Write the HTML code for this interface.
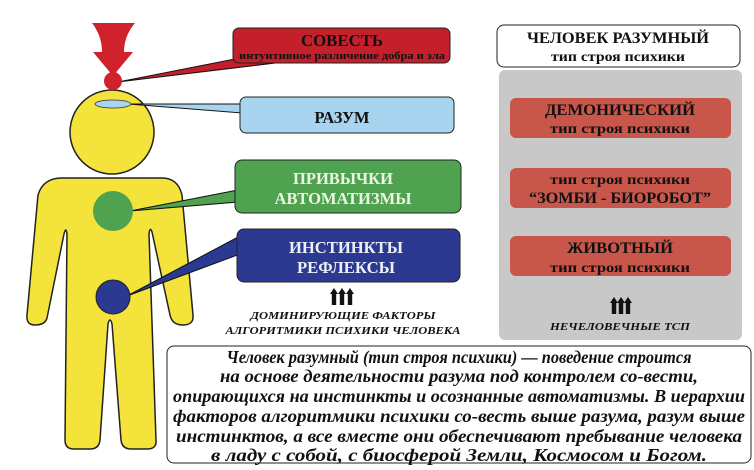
<!DOCTYPE html>
<html><head><meta charset="utf-8"><style>html,body{margin:0;padding:0;background:#fff}svg{display:block}text{font-family:"Liberation Serif","DejaVu Serif",serif;font-weight:bold}</style></head>
<body>
<svg width="754" height="470" viewBox="0 0 754 470" xmlns="http://www.w3.org/2000/svg">
<defs>
<path id="ar" d="M -4,0 L 0,-6 L 4,0 L 2.2,0 L 2.2,11 L -2.2,11 L -2.2,0 Z" fill="#111"/>
</defs>
<path d="M 62,178 L 162,178 Q 178,178 182,195 L 193,315 Q 194,325 183,325 Q 172,325 170,315 L 152,232 Q 150,226 149,234 L 156,440 Q 157,449 147,449 L 131,449 Q 122,449 121,440 L 112,324 Q 110,316 108,324 L 100,440 Q 99,449 90,449 L 74,449 Q 65,449 65,440 L 67,234 Q 66,226 64,234 L 47,318 Q 45,325 35,325 Q 26,325 27,315 L 38,195 Q 43,178 62,178 Z" fill="#f3e33a" stroke="#222" stroke-width="1.5"/>
<circle cx="112" cy="132" r="42" fill="#f3e33a" stroke="#222" stroke-width="1.5"/>
<polygon points="118,82 240,58 300,60" fill="#c4202c" stroke="#111" stroke-width="1"/>
<polygon points="128,104 242,104 242,113" fill="#a9d4ef" stroke="#111" stroke-width="1"/>
<polygon points="130,211 238,190 238,202" fill="#4fa24f" stroke="#111" stroke-width="1"/>
<polygon points="127,296 240,236 240,254" fill="#2b3990" stroke="#111" stroke-width="1"/>
<ellipse cx="113" cy="104" rx="18" ry="4" fill="#a9d4ef" stroke="#333" stroke-width="0.8"/>
<circle cx="113" cy="211" r="20" fill="#4fa24f"/>
<circle cx="113" cy="297" r="17" fill="#2b3990" stroke="#222" stroke-width="1"/>
<path d="M 92,23 L 135,23 Q 124,36 124,52 L 133,52 L 113,76 L 93,52 L 102,52 Q 102,36 92,23 Z" fill="#d0222c"/>
<circle cx="113" cy="81" r="9" fill="#d0222c"/>
<rect x="233" y="28" width="217" height="35" rx="6" fill="#c4202c" stroke="#222" stroke-width="1"/>
<text x="342" y="46" text-anchor="middle" font-size="17" fill="#111" textLength="82" lengthAdjust="spacingAndGlyphs">СОВЕСТЬ</text>
<text x="342" y="59" text-anchor="middle" font-size="10" fill="#111" textLength="206" lengthAdjust="spacingAndGlyphs">интуитивное различение добра и зла</text>
<rect x="240" y="97" width="214" height="36" rx="6" fill="#a9d4ef" stroke="#222" stroke-width="1"/>
<text x="342" y="123" text-anchor="middle" font-size="17" fill="#111" textLength="55" lengthAdjust="spacingAndGlyphs">РАЗУМ</text>
<rect x="235" y="160" width="226" height="53" rx="7" fill="#4fa24f" stroke="#222" stroke-width="1"/>
<text x="343" y="184" text-anchor="middle" font-size="17" fill="#eef5e0" textLength="100" lengthAdjust="spacingAndGlyphs">ПРИВЫЧКИ</text>
<text x="343" y="204" text-anchor="middle" font-size="17" fill="#eef5e0" textLength="137" lengthAdjust="spacingAndGlyphs">АВТОМАТИЗМЫ</text>
<rect x="237" y="229" width="223" height="53" rx="7" fill="#2b3990" stroke="#222" stroke-width="1"/>
<text x="346" y="253" text-anchor="middle" font-size="17" fill="#eef0f8" textLength="114" lengthAdjust="spacingAndGlyphs">ИНСТИНКТЫ</text>
<text x="346" y="273" text-anchor="middle" font-size="17" fill="#eef0f8" textLength="98" lengthAdjust="spacingAndGlyphs">РЕФЛЕКСЫ</text>
<use href="#ar" x="334" y="294"/><use href="#ar" x="342" y="294"/><use href="#ar" x="350" y="294"/>
<text x="343" y="319" text-anchor="middle" font-size="11" font-style="italic" fill="#111" textLength="185" lengthAdjust="spacingAndGlyphs">ДОМИНИРУЮЩИЕ ФАКТОРЫ</text>
<text x="343" y="334" text-anchor="middle" font-size="11" font-style="italic" fill="#111" textLength="235" lengthAdjust="spacingAndGlyphs">АЛГОРИТМИКИ ПСИХИКИ ЧЕЛОВЕКА</text>
<rect x="497" y="25" width="243" height="42" rx="7" fill="#fff" stroke="#222" stroke-width="1"/>
<text x="618" y="43" text-anchor="middle" font-size="16" fill="#111" textLength="182" lengthAdjust="spacingAndGlyphs">ЧЕЛОВЕК РАЗУМНЫЙ</text>
<text x="618" y="61" text-anchor="middle" font-size="14" fill="#111" textLength="134" lengthAdjust="spacingAndGlyphs">тип строя психики</text>
<rect x="499" y="70" width="243" height="270" rx="6" fill="#c8c8c8"/>
<rect x="510" y="98" width="221" height="40" rx="6" fill="#c8564a"/>
<text x="620" y="115" text-anchor="middle" font-size="16" fill="#111" textLength="150" lengthAdjust="spacingAndGlyphs">ДЕМОНИЧЕСКИЙ</text>
<text x="620" y="133" text-anchor="middle" font-size="14" fill="#111" textLength="140" lengthAdjust="spacingAndGlyphs">тип строя психики</text>
<rect x="510" y="168" width="221" height="40" rx="6" fill="#c8564a"/>
<text x="620" y="184" text-anchor="middle" font-size="14" fill="#111" textLength="140" lengthAdjust="spacingAndGlyphs">тип строя психики</text>
<text x="620" y="203" text-anchor="middle" font-size="16" fill="#111" textLength="182" lengthAdjust="spacingAndGlyphs">“ЗОМБИ - БИОРОБОТ”</text>
<rect x="510" y="236" width="221" height="40" rx="6" fill="#c8564a"/>
<text x="620" y="253" text-anchor="middle" font-size="16" fill="#111" textLength="106" lengthAdjust="spacingAndGlyphs">ЖИВОТНЫЙ</text>
<text x="620" y="272" text-anchor="middle" font-size="14" fill="#111" textLength="140" lengthAdjust="spacingAndGlyphs">тип строя психики</text>
<use href="#ar" x="614" y="303"/><use href="#ar" x="621" y="303"/><use href="#ar" x="628" y="303"/>
<text x="620" y="330" text-anchor="middle" font-size="11" font-style="italic" fill="#111" textLength="140" lengthAdjust="spacingAndGlyphs">НЕЧЕЛОВЕЧНЫЕ ТСП</text>
<rect x="167" y="346" width="584" height="117" rx="7" fill="#fff" stroke="#222" stroke-width="1"/>
<g font-style="italic" font-size="18" fill="#111" text-anchor="middle">
<text x="459" y="363" textLength="465" lengthAdjust="spacingAndGlyphs">Человек разумный (тип строя психики) — поведение строится</text>
<text x="459" y="382" textLength="478" lengthAdjust="spacingAndGlyphs">на основе деятельности разума под контролем со-вести,</text>
<text x="459" y="402" textLength="572" lengthAdjust="spacingAndGlyphs">опирающихся на инстинкты и осознанные автоматизмы. В иерархии</text>
<text x="459" y="422" textLength="572" lengthAdjust="spacingAndGlyphs">факторов алгоритмики психики со-весть выше разума, разум выше</text>
<text x="459" y="442" textLength="566" lengthAdjust="spacingAndGlyphs">инстинктов, а все вместе они обеспечивают пребывание человека</text>
<text x="459" y="461" textLength="496" lengthAdjust="spacingAndGlyphs">в ладу с собой, с биосферой Земли, Космосом и Богом.</text>
</g>
</svg>
</body></html>
